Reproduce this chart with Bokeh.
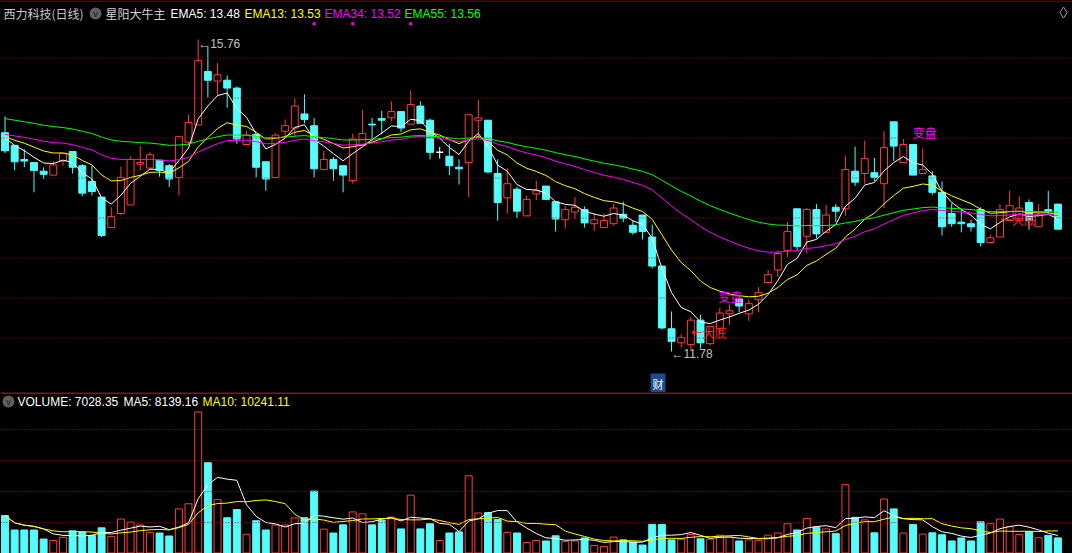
import numpy as np
import pandas as pd
from bokeh.plotting import figure
from bokeh.layouts import column
from bokeh.models import Range1d, Span, Label
from bokeh.core.properties import value
from bokeh.embed import file_html
from bokeh.resources import INLINE

# ---------------- data ----------------
opens = [14.57, 14.41, 14.23, 14.19, 14.08, 14.03, 14.21, 14.33, 14.15, 13.95,
         13.75, 13.36, 13.54, 13.65, 14.17, 14.12, 14.22, 14.15, 14.00, 14.45,
         14.67, 15.35, 15.23, 15.24, 15.14, 14.42, 14.55, 14.20, 14.00, 14.59,
         14.63, 14.81, 14.66, 14.10, 14.23, 14.15, 13.96, 14.41, 14.68, 14.75,
         14.76, 14.84, 14.68, 14.91, 14.73, 14.32, 14.27, 14.13, 14.19, 14.73,
         14.73, 14.05, 13.74, 13.85, 13.51, 13.79, 13.89, 13.69, 13.46, 13.56,
         13.59, 13.41, 13.36, 13.41, 13.53, 13.39, 13.52, 13.24, 12.87, 12.07,
         11.89, 11.87, 12.18, 11.88, 12.07, 12.26, 12.45, 12.26, 12.44, 12.66,
         12.82, 13.07, 13.60, 13.25, 13.59, 13.30, 13.62, 13.60, 14.08, 14.05,
         14.06, 13.92, 14.71, 14.19, 14.42, 14.05, 14.02, 13.81, 13.54, 13.43,
         13.41, 13.59, 13.17, 13.24, 13.45, 13.45, 13.68, 13.37, 13.59, 13.66]
highs = [14.78, 14.41, 14.36, 14.19, 14.13, 14.21, 14.31, 14.33, 14.17, 14.15,
         13.75, 13.62, 14.14, 14.27, 14.40, 14.32, 14.22, 14.17, 14.52, 14.80,
         15.76, 15.68, 15.46, 15.30, 15.16, 14.59, 14.55, 14.20, 14.56, 14.74,
         15.01, 15.06, 14.76, 14.34, 14.26, 14.15, 14.56, 14.86, 14.76, 14.85,
         14.97, 14.84, 15.11, 14.97, 14.75, 14.39, 14.43, 14.23, 14.80, 14.99,
         14.73, 14.23, 14.12, 13.88, 13.77, 13.96, 13.89, 13.69, 13.64, 13.75,
         13.63, 13.54, 13.54, 13.66, 13.69, 13.45, 13.52, 13.40, 12.87, 12.29,
         12.00, 12.22, 12.25, 12.10, 12.34, 12.38, 12.49, 12.44, 12.60, 12.82,
         13.07, 13.43, 13.60, 13.61, 13.66, 13.65, 13.66, 14.28, 14.39, 14.47,
         14.25, 14.59, 14.71, 14.49, 14.42, 14.37, 14.08, 13.95, 13.67, 13.59,
         13.46, 13.62, 13.27, 13.66, 13.83, 13.76, 13.72, 13.66, 13.83, 13.66]
lows = [14.31, 14.09, 14.13, 13.81, 13.98, 14.03, 14.15, 14.05, 13.76, 13.77,
        13.24, 13.36, 13.52, 13.65, 14.09, 14.12, 14.01, 13.88, 13.77, 14.41,
        14.67, 15.02, 15.05, 14.89, 14.43, 14.42, 14.00, 13.83, 14.00, 14.52,
        14.52, 14.69, 14.00, 14.10, 13.96, 13.81, 13.92, 14.41, 14.47, 14.55,
        14.72, 14.58, 14.68, 14.69, 14.23, 14.24, 14.03, 13.91, 13.75, 14.51,
        14.05, 13.45, 13.54, 13.48, 13.51, 13.71, 13.72, 13.31, 13.35, 13.47,
        13.36, 13.32, 13.36, 13.39, 13.43, 13.27, 13.21, 12.84, 12.06, 11.78,
        11.83, 11.80, 11.82, 11.86, 12.00, 12.12, 12.28, 12.17, 12.28, 12.66,
        12.73, 12.98, 13.07, 13.03, 13.22, 13.30, 13.43, 13.51, 13.89, 13.92,
        13.95, 13.61, 14.21, 14.19, 14.03, 14.05, 13.78, 13.26, 13.37, 13.30,
        13.31, 13.12, 13.17, 13.24, 13.45, 13.45, 13.33, 13.37, 13.54, 13.34]
closes = [14.34, 14.20, 14.21, 14.09, 14.04, 14.16, 14.31, 14.13, 13.80, 13.82,
          13.26, 13.50, 14.00, 14.23, 14.19, 14.29, 14.09, 13.98, 14.52, 14.70,
          15.49, 15.24, 15.31, 15.14, 14.49, 14.54, 14.13, 13.98, 14.54, 14.66,
          14.91, 14.74, 14.11, 14.23, 14.11, 14.03, 14.49, 14.56, 14.67, 14.73,
          14.84, 14.63, 14.93, 14.69, 14.32, 14.32, 14.15, 14.11, 14.80, 14.76,
          14.07, 13.68, 13.92, 13.57, 13.72, 13.83, 13.72, 13.47, 13.59, 13.62,
          13.42, 13.46, 13.45, 13.61, 13.48, 13.30, 13.31, 12.87, 12.08, 11.91,
          11.96, 12.18, 11.89, 12.10, 12.27, 12.30, 12.36, 12.39, 12.53, 12.76,
          13.03, 13.31, 13.12, 13.59, 13.28, 13.52, 13.57, 14.10, 13.94, 14.24,
          14.00, 14.38, 14.40, 14.42, 14.03, 14.10, 13.81, 13.37, 13.41, 13.41,
          13.37, 13.17, 13.23, 13.59, 13.64, 13.61, 13.45, 13.52, 13.57, 13.34]
volumes = [17400, 10700, 10700, 10700, 6500, 5800, 7300, 10300, 9800, 8100,
           11700, 7700, 15800, 14400, 13000, 9600, 9300, 7900, 20500, 22900,
           65600, 42000, 24800, 16400, 20200, 8700, 15000, 10700, 13000, 13000,
           16300, 16400, 28800, 11100, 9300, 13100, 19100, 18200, 13100, 15300,
           16700, 11200, 26900, 11200, 13600, 5800, 9300, 9800, 35900, 18600,
           18800, 15600, 9600, 9300, 4900, 5800, 5600, 8000, 5400, 5600,
           7000, 3500, 3000, 7400, 6100, 5000, 3700, 13300, 13300, 6100,
           6400, 8600, 6600, 6400, 8300, 7400, 5600, 6100, 5900, 8300,
           9300, 13600, 10700, 16000, 12000, 11200, 9000, 31800, 16600, 15400,
           9400, 25100, 20500, 9300, 13300, 8800, 9400, 8500, 5600, 7000,
           5600, 14500, 13600, 15800, 12200, 8600, 9900, 7100, 8200, 7028.35]

ema_periods = [5, 13, 34, 55]
ema_start = [14.51, 14.52, 14.55, 14.75]
ema_colors = ["#ffffff", "#ffff00", "#ff00ff", "#00ff00"]
ema_header = ["EMA5: 13.48", "EMA13: 13.53", "EMA34: 13.52", "EMA55: 13.56"]
title_stock = "西力科技(日线)"
title_formula = "星阳大牛主"
vol_header = ["VOLUME: 7028.35", "MA5: 8139.16", "MA10: 10241.11"]
vol_header_colors = ["#ffffff", "#ffffff", "#ffff00"]

turn_text = ["变盘", "变盘"]
turn_idx = [75.1, 95.2]
turn_price = [12.48, 14.57]
bottom_text = ["←大底", "←大底"]
bottom_idx = [71.0, 103.0]
bottom_price = [12.02, 13.46]
dot_idx = [32, 36, 42]
dot_price = [15.96, 15.96, 15.96]
cai_idx = 67.6

# ---------------- layout helpers ----------------
W, H = 1072, 553
H1 = 392
H2 = H - H1
STEP, X0 = 9.66, 4.5


def mx(px):
    return (px - X0) / STEP


def my(py):
    return 16.257 - py / 78.4


def vy(py):
    return (552.5 - py) * 465.0


RED = "#ff3c3c"
CYAN = "#54fcfc"
GRID = "#9a1616"
FONT = value("Liberation Sans")
CJK = value("Noto Sans CJK SC")

o = np.array(opens)
h = np.array(highs)
l = np.array(lows)
c = np.array(closes)
v = np.array(volumes)
n = len(c)
idx = np.arange(n)
up = c > o
dn = c < o
fl = c == o
bw = 0.36

xr = Range1d(mx(0), mx(1072))

# ---------------- main panel ----------------
p1 = figure(width=W, height=H1, x_range=xr, y_range=Range1d(my(392), my(0)),
            output_backend="svg", toolbar_location=None,
            x_axis_location=None, y_axis_location=None,
            background_fill_color="black", border_fill_color="black",
            outline_line_color=None, min_border=0)
p1.xgrid.visible = False
p1.ygrid.visible = False

for k in range(8):
    p1.add_layout(Span(location=my(57.5 + 40 * k), dimension="width",
                       line_color=GRID, line_dash="1 2", line_width=1))
p1.add_layout(Span(location=my(0.5), dimension="width", line_color="#b40000", line_width=1))

# up candles (hollow red)
p1.segment(x0=idx[up], y0=l[up], x1=idx[up], y1=h[up], line_color=RED, line_width=1)
p1.quad(left=idx[up] - bw, right=idx[up] + bw, bottom=o[up], top=c[up],
        fill_color="black", line_color=RED, line_width=1)
# down candles (filled cyan)
p1.segment(x0=idx[dn], y0=l[dn], x1=idx[dn], y1=h[dn], line_color=CYAN, line_width=1)
p1.quad(left=idx[dn] - bw, right=idx[dn] + bw, bottom=c[dn], top=o[dn],
        fill_color=CYAN, line_color=CYAN, line_width=1)
# doji
p1.segment(x0=idx[fl], y0=l[fl], x1=idx[fl], y1=h[fl], line_color="white", line_width=1)
p1.segment(x0=idx[fl] - bw, y0=o[fl], x1=idx[fl] + bw, y1=o[fl], line_color="white", line_width=1.5)

# EMA lines
for per, st, col in zip(ema_periods, ema_start, ema_colors):
    a = 2.0 / (per + 1)
    e = [st]
    for val in c[1:]:
        e.append(e[-1] + a * (val - e[-1]))
    p1.line(idx, e, line_color=col, line_width=1)

# high / low labels
imax = int(np.argmax(h))
imin = int(np.argmin(l))
p1.text(x=[imax], y=[h[imax] - 0.06], text=["←%.2f" % h[imax]], text_font=FONT,
        text_font_size="12px", text_color="#c0c0c0", text_baseline="middle", text_align="left")
p1.text(x=[imin], y=[l[imin] - 0.03], text=["←%.2f" % l[imin]], text_font=FONT,
        text_font_size="12px", text_color="#c0c0c0", text_baseline="middle", text_align="left")

# signals
p1.text(x=turn_idx, y=turn_price, text=turn_text, text_font=CJK, text_font_size="12px",
        text_color="#ff00ff", text_baseline="middle", text_align="center")
p1.text(x=bottom_idx, y=bottom_price, text=bottom_text, text_font=CJK, text_font_size="12px",
        text_color="#ff2020", text_baseline="middle", text_align="left")
p1.scatter(x=dot_idx, y=dot_price, marker="square", size=3,
           fill_color="#ff00ff", line_color=None)

# header
hy = my(13)
p1.text(x=[mx(3)], y=[hy], text=[title_stock], text_font=CJK, text_font_size="12px",
        text_color="#c8c8c8", text_baseline="middle", text_align="left")
p1.scatter(x=[mx(95)], y=[hy], size=12, fill_color="#5f5f5f", line_color=None)
p1.text(x=[mx(95)], y=[hy], text=["v"], text_font=FONT, text_font_size="9px",
        text_color="#1e1e1e", text_baseline="middle", text_align="center")
p1.text(x=[mx(105)], y=[hy], text=[title_formula], text_font=CJK, text_font_size="12px",
        text_color="#d2d2d2", text_baseline="middle", text_align="left")
for xpos, txt, col in zip([170, 244, 324, 404], ema_header, ema_colors):
    p1.text(x=[mx(xpos)], y=[hy], text=[txt], text_font=FONT, text_font_size="12px",
            text_color=col, text_baseline="middle", text_align="left")
p1.scatter(x=[mx(1063)], y=[my(12)], marker="diamond", size=11, fill_color=None,
           line_color="#a0a0a0", line_width=1)

cai_kw = dict(x=cai_idx, y=my(383), text="财", text_color="white",
              text_font="Noto Sans CJK SC", text_font_size="11px",
              text_align="center", text_baseline="middle",
              background_fill_color="#1b4a8e")
try:
    cai = Label(padding=2, **cai_kw)
except Exception:
    cai = Label(**cai_kw)
p1.add_layout(cai)

# ---------------- volume panel ----------------
p2 = figure(width=W, height=H2, x_range=xr, y_range=Range1d(vy(553), vy(392)),
            output_backend="svg", toolbar_location=None,
            x_axis_location=None, y_axis_location=None,
            background_fill_color="black", border_fill_color="black",
            outline_line_color=None, min_border=0)
p2.xgrid.visible = False
p2.ygrid.visible = False
for k in range(4):
    p2.add_layout(Span(location=vy(429 + 31 * k), dimension="width",
                       line_color=GRID, line_dash="1 2", line_width=1))
p2.add_layout(Span(location=vy(392.5), dimension="width", line_color="#c81414", line_width=1.5))

vup = c >= o
vdn = ~vup
p2.quad(left=idx[vup] - bw, right=idx[vup] + bw, bottom=0, top=v[vup],
        fill_color="black", line_color=RED, line_width=1)
p2.quad(left=idx[vdn] - bw, right=idx[vdn] + bw, bottom=0, top=v[vdn],
        fill_color=CYAN, line_color=CYAN, line_width=1)

vs = pd.Series(v)
p2.line(idx, vs.rolling(5, min_periods=1).mean().values, line_color="#ffffff", line_width=1)
p2.line(idx, vs.rolling(10, min_periods=1).mean().values, line_color="#ffff00", line_width=1)

vhy = vy(401)
p2.scatter(x=[mx(8)], y=[vhy], size=12, fill_color="#5f5f5f", line_color=None)
p2.text(x=[mx(8)], y=[vhy], text=["v"], text_font=FONT, text_font_size="9px",
        text_color="#1e1e1e", text_baseline="middle", text_align="center")
for xpos, txt, col in zip([17, 123, 202], vol_header, vol_header_colors):
    p2.text(x=[mx(xpos)], y=[vhy], text=[txt], text_font=FONT, text_font_size="12px",
            text_color=col, text_baseline="middle", text_align="left")

layout = column(p1, p2, spacing=0)
try:
    from bokeh.models import GlobalInlineStyleSheet
    layout.stylesheets = [GlobalInlineStyleSheet(css="html, body { background-color: #000000; }")]
except Exception:
    pass

open("out.html", "w").write(file_html(layout, INLINE))
